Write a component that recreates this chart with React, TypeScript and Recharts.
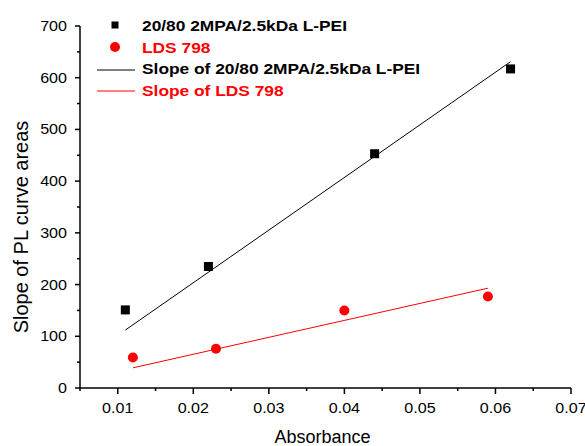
import React from 'react';
import { ComposedChart, XAxis, YAxis, Scatter, Line, Label } from 'recharts';

const PEI_ABS = [0.011, 0.022, 0.044, 0.062];
const PEI_SLOPE = [151, 235, 453, 617];
const LDS_ABS = [0.012, 0.023, 0.04, 0.059];
const LDS_SLOPE = [59, 76, 150, 177];
const PEI_FIT_ABS = [0.011, 0.062];
const PEI_FIT_SLOPE = [112, 631];
const LDS_FIT_ABS = [0.012, 0.059];
const LDS_FIT_SLOPE = [39, 193];

const X_TICKS = [0.005, 0.01, 0.015, 0.02, 0.025, 0.03, 0.035, 0.04, 0.045, 0.05, 0.055, 0.06, 0.065, 0.07];
const Y_TICKS = [0, 50, 100, 150, 200, 250, 300, 350, 400, 450, 500, 550, 600, 650, 700];

const SERIES_NAMES = [
  '20/80 2MPA/2.5kDa L-PEI',
  'LDS 798',
  'Slope of 20/80 2MPA/2.5kDa L-PEI',
  'Slope of LDS 798',
];
const X_TITLE = 'Absorbance';
const Y_TITLE = 'Slope of PL curve areas';

const zip = (xs: number[], ys: number[]) => xs.map((x, i) => ({ x, y: ys[i] }));
const peiData = zip(PEI_ABS, PEI_SLOPE);
const ldsData = zip(LDS_ABS, LDS_SLOPE);
const peiFit = zip(PEI_FIT_ABS, PEI_FIT_SLOPE);
const ldsFit = zip(LDS_FIT_ABS, LDS_FIT_SLOPE);

const FONT = '"Liberation Sans", Arial, Helvetica, sans-serif';
const RED = '#ff0000';

const XTick = (props: any) => {
  const { x, y, payload } = props;
  const v = payload.value as number;
  const major = Math.round(v * 1000) % 10 === 0;
  return (
    <g>
      <line x1={x} x2={x} y1={y} y2={y + (major ? 6 : 3)} stroke="#000" strokeWidth={1.5} />
      {major && (
        <text
          transform={`translate(${x},${y + 25}) scale(1.15,1)`}
          textAnchor="middle"
          fontSize={14}
          fontFamily={FONT}
          fill="#000"
        >
          {String(v)}
        </text>
      )}
    </g>
  );
};

const YTick = (props: any) => {
  const { x, y, payload } = props;
  const v = payload.value as number;
  const major = v % 100 === 0;
  return (
    <g>
      <line x1={x - (major ? 5 : 3)} x2={x} y1={y} y2={y} stroke="#000" strokeWidth={1.5} />
      {major && (
        <text
          transform={`translate(${x - 13},${y + 5}) scale(1.15,1)`}
          textAnchor="end"
          fontSize={14}
          fontFamily={FONT}
          fill="#000"
        >
          {String(v)}
        </text>
      )}
    </g>
  );
};

const SquareShape = (props: any) => {
  const { cx, cy } = props;
  return <rect x={cx - 4.5} y={cy - 4.5} width={9} height={9} fill="#000" />;
};
const CircleShape = (props: any) => {
  const { cx, cy } = props;
  return <circle cx={cx} cy={cy} r={5} fill={RED} />;
};

const XTitle = (props: any) => {
  const vb = props.viewBox || { x: 80, y: 388, width: 491, height: 58 };
  return (
    <text x={vb.x + vb.width / 2 - 3} y={vb.y + 55} textAnchor="middle" fontSize={18} fontFamily={FONT} fill="#000">
      {X_TITLE}
    </text>
  );
};

const YTitle = (props: any) => {
  const vb = props.viewBox || { x: 0, y: 26, width: 80, height: 362 };
  const x = vb.x + 28;
  const y = vb.y + vb.height / 2 + 20;
  return (
    <text x={x} y={y} transform={`rotate(-90, ${x}, ${y})`} textAnchor="middle" fontSize={20} fontFamily={FONT} fill="#000">
      {Y_TITLE}
    </text>
  );
};

const LegendOverlay = () => {
  const tx = 142;
  const rows = [31, 53, 74, 96];
  const textProps = { fontSize: 15.5, fontWeight: 700 as const, fontFamily: FONT };
  return (
    <svg width={585} height={110} style={{ position: 'absolute', left: 0, top: 0, pointerEvents: 'none' }}>
      <rect x={111.5} y={21.5} width={7} height={7} fill="#000" />
      <text transform={`translate(${tx},${rows[0]}) scale(1.12,1)`} fill="#000" {...textProps}>{SERIES_NAMES[0]}</text>
      <circle cx={115} cy={47} r={5} fill={RED} />
      <text transform={`translate(${tx},${rows[1]}) scale(1.12,1)`} fill={RED} {...textProps}>{SERIES_NAMES[1]}</text>
      <line x1={97} x2={135} y1={70} y2={70} stroke="#000" strokeWidth={1} />
      <text transform={`translate(${tx},${rows[2]}) scale(1.12,1)`} fill="#000" {...textProps}>{SERIES_NAMES[2]}</text>
      <line x1={97} x2={135} y1={91} y2={91} stroke={RED} strokeWidth={1} />
      <text transform={`translate(${tx},${rows[3]}) scale(1.12,1)`} fill={RED} {...textProps}>{SERIES_NAMES[3]}</text>
    </svg>
  );
};

export default function App() {
  return (
    <div style={{ position: 'absolute', left: 0, top: 0, width: 585, height: 446, background: '#fff' }}>
      <ComposedChart width={585} height={446} margin={{ top: 26, right: 14, left: 0, bottom: 0 }}>
        <XAxis
          type="number"
          dataKey="x"
          domain={[0.005, 0.07]}
          ticks={X_TICKS}
          interval={0}
          allowDataOverflow
          height={58}
          tickSize={0}
          tickMargin={0}
          tickLine={false}
          axisLine={{ stroke: '#000', strokeWidth: 1.5 }}
          tick={<XTick />}
        >
          <Label content={<XTitle />} />
        </XAxis>
        <YAxis
          type="number"
          dataKey="y"
          domain={[0, 700]}
          ticks={Y_TICKS}
          interval={0}
          allowDataOverflow
          width={80}
          tickSize={0}
          tickMargin={0}
          tickLine={false}
          axisLine={{ stroke: '#000', strokeWidth: 1.5 }}
          tick={<YTick />}
        >
          <Label content={<YTitle />} />
        </YAxis>
        <Line data={peiFit} dataKey="y" stroke="#000" strokeWidth={1} dot={false} isAnimationActive={false} />
        <Line data={ldsFit} dataKey="y" stroke={RED} strokeWidth={1} dot={false} isAnimationActive={false} />
        <Scatter data={peiData} dataKey="y" shape={<SquareShape />} isAnimationActive={false} />
        <Scatter data={ldsData} dataKey="y" shape={<CircleShape />} isAnimationActive={false} />
      </ComposedChart>
      <LegendOverlay />
    </div>
  );
}
